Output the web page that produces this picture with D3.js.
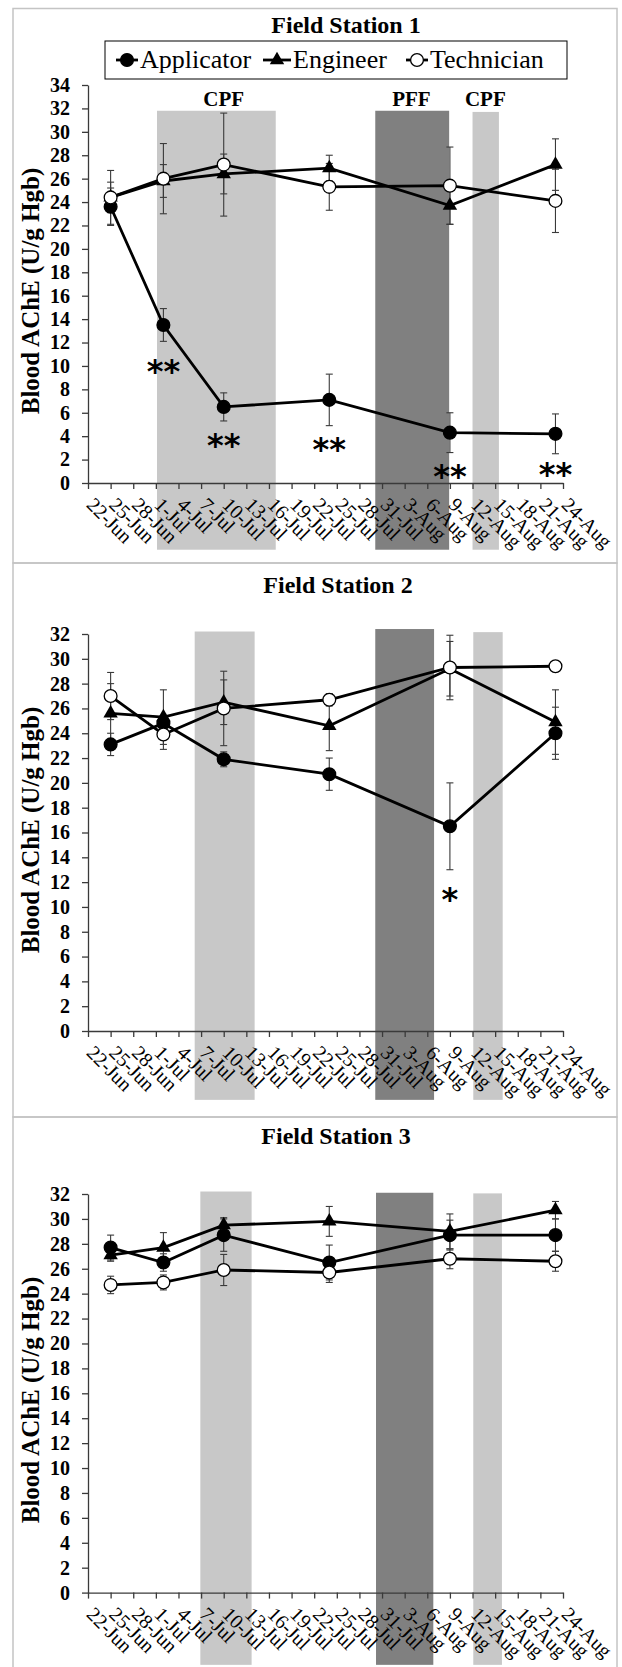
<!DOCTYPE html>
<html>
<head>
<meta charset="utf-8">
<script src="https://cdn.jsdelivr.net/npm/d3@7"></script>
<style>
body { margin: 0; background: #fff; }
svg { display: block; font-family: "Liberation Serif", "Times New Roman", serif; }
</style>
</head>
<body>
<svg id="mainSvg" width="622" height="1667"></svg>
<script>
var year = "2014";

// x axis tick labels (every 3 days)
var tickLabels = ["22-Jun", "25-Jun", "28-Jun", "1-Jul", "4-Jul", "7-Jul", "10-Jul", "13-Jul",
	"16-Jul", "19-Jul", "22-Jul", "25-Jul", "28-Jul", "31-Jul", "3-Aug", "6-Aug", "9-Aug",
	"12-Aug", "15-Aug", "18-Aug", "21-Aug", "24-Aug"];

// sampling days
var sampleDates = ["25-Jun", "2-Jul", "10-Jul", "24-Jul", "9-Aug", "23-Aug"];
var seriesNames = ["Applicator", "Engineer", "Technician"];

// Field Station 1
var s1Applicator    = [23.6, 13.5, 6.5, 7.1, 4.3, 4.2];
var s1ApplicatorErr = [1.6, 1.4, 1.2, 2.2, 1.7, 1.7];
var s1Engineer      = [24.4, 25.8, 26.4, 26.9, 23.7, 27.2];
var s1EngineerErr   = [1.3, 1.4, 1.7, 1.1, 1.6, 2.2];
var s1Technician    = [24.4, 26.0, 27.2, 25.3, 25.4, 24.1];
var s1TechnicianErr = [2.3, 3.0, 4.4, 2.0, 3.3, 2.7];
var s1BandStart = ["2014-07-01T03:36Z", "2014-07-30T02:24Z", "2014-08-12T00:00Z"];
var s1BandEnd   = ["2014-07-16T21:36Z", "2014-08-08T21:36Z", "2014-08-15T12:00Z"];
var s1BandTop   = [31.8, 31.8, 31.7];
var s1BandKind  = ["light", "dark", "light"];
var s1PeriodLabels  = ["CPF", "PFF", "CPF"];
var s1PeriodLabelAt = ["2014-07-10T00:00Z", "2014-08-03T21:36Z", "2014-08-13T16:48Z"];
var s1StarDates  = ["2-Jul", "10-Jul", "24-Jul", "9-Aug", "23-Aug"];
var s1StarLevels = [10.1, 3.8, 3.4, 1.1, 1.25];

// Field Station 2
var s2Applicator    = [23.1, 24.8, 21.9, 20.7, 16.5, 24.0];
var s2ApplicatorErr = [0.9, 0.6, 0.6, 1.3, 3.5, 2.1];
var s2Engineer      = [25.6, 25.3, 26.5, 24.6, 29.2, 24.9];
var s2EngineerErr   = [2.4, 2.2, 1.8, 2.0, 2.2, 2.6];
var s2Technician    = [27.0, 23.9, 26.0, 26.7, 29.3, 29.4];
var s2TechnicianErr = [1.9, 1.2, 3.0, 0.5, 2.6, 0.3];
var s2BandStart = ["2014-07-06T03:36Z", "2014-07-30T02:24Z", "2014-08-12T02:24Z"];
var s2BandEnd   = ["2014-07-14T02:24Z", "2014-08-06T21:36Z", "2014-08-16T00:00Z"];
var s2BandTop   = [32.2, 32.4, 32.15];
var s2BandKind  = ["light", "dark", "light"];
var s2StarDates  = ["9-Aug"];
var s2StarLevels = [11.1];

// Field Station 3
var s3Applicator    = [27.7, 26.5, 28.7, 26.5, 28.7, 28.7];
var s3ApplicatorErr = [1.0, 0.7, 1.3, 1.4, 1.2, 1.3];
var s3Engineer      = [27.1, 27.7, 29.5, 29.8, 29.0, 30.7];
var s3EngineerErr   = [0.5, 1.2, 0.6, 1.2, 1.4, 0.7];
var s3Technician    = [24.7, 24.9, 25.9, 25.7, 26.8, 26.6];
var s3TechnicianErr = [0.7, 0.6, 1.25, 0.8, 0.8, 0.8];
var s3BandStart = ["2014-07-06T21:36Z", "2014-07-30T04:48Z", "2014-08-12T02:24Z"];
var s3BandEnd   = ["2014-07-13T16:48Z", "2014-08-06T19:12Z", "2014-08-15T21:36Z"];
var s3BandTop   = [32.2, 32.1, 32.05];
var s3BandKind  = ["light", "dark", "light"];

var parseDay = d3.utcParse("%d-%b-%Y");
function day(s) { return parseDay(s + "-" + year); }

var svg = d3.select("#mainSvg");

var x = d3.scaleUtc()
	.domain([day(tickLabels[0]), day(tickLabels[tickLabels.length - 1])])
	.range([88, 563]);

var panels = [
	{ title: "Field Station 1", titleX: 346, titleY: 33, top: 8.5, bottom: 563,
	  yMax: 34, yTop: 85, yBottom: 483, labelY: 291, bandBottom: -5.7,
	  values: [s1Applicator, s1Engineer, s1Technician],
	  errs: [s1ApplicatorErr, s1EngineerErr, s1TechnicianErr],
	  bandStart: s1BandStart, bandEnd: s1BandEnd, bandTop: s1BandTop, bandKind: s1BandKind,
	  periodLabels: s1PeriodLabels, periodLabelAt: s1PeriodLabelAt, periodLabelLevel: 32.2,
	  starDates: s1StarDates, starLevels: s1StarLevels, starText: "**", legend: true },
	{ title: "Field Station 2", titleX: 338, titleY: 593, top: 563, bottom: 1117,
	  yMax: 32, yTop: 634, yBottom: 1031, labelY: 830, bandBottom: -5.55,
	  values: [s2Applicator, s2Engineer, s2Technician],
	  errs: [s2ApplicatorErr, s2EngineerErr, s2TechnicianErr],
	  bandStart: s2BandStart, bandEnd: s2BandEnd, bandTop: s2BandTop, bandKind: s2BandKind,
	  periodLabels: [], periodLabelAt: [],
	  starDates: s2StarDates, starLevels: s2StarLevels, starText: "*", legend: false },
	{ title: "Field Station 3", titleX: 336, titleY: 1144, top: 1117, bottom: 1680,
	  yMax: 32, yTop: 1194, yBottom: 1592.6, labelY: 1400, bandBottom: -5.8,
	  values: [s3Applicator, s3Engineer, s3Technician],
	  errs: [s3ApplicatorErr, s3EngineerErr, s3TechnicianErr],
	  bandStart: s3BandStart, bandEnd: s3BandEnd, bandTop: s3BandTop, bandKind: s3BandKind,
	  periodLabels: [], periodLabelAt: [],
	  starDates: [], starLevels: [], starText: "", legend: false }
];

var ink = "#3a3a3a";

// marker for series k: filled circle, filled triangle, open circle
function addMarker(sel, k) {
	if (k == 1) {
		sel.append("path")
			.attr("d", d3.symbol().type(d3.symbolTriangle).size(90))
			.attr("fill", "#000");
	} else {
		sel.append("circle")
			.attr("r", 6.4)
			.attr("fill", k == 0 ? "#000" : "#fff")
			.attr("stroke", "#000")
			.attr("stroke-width", 1.3);
	}
}

panels.forEach(function(p) {
	var y = d3.scaleLinear().domain([0, p.yMax]).range([p.yBottom, p.yTop]);
	var g = svg.append("g").attr("class", "panel");

	// panel border
	g.append("rect")
		.attr("x", 13).attr("y", p.top)
		.attr("width", 604).attr("height", p.bottom - p.top)
		.attr("fill", "none").attr("stroke", "#c4c4c4").attr("stroke-width", 1.5);

	// shaded spray periods
	g.selectAll(".band")
		.data(d3.range(p.bandStart.length))
		.enter().append("rect")
		.attr("class", "band")
		.attr("x", function(i) { return x(d3.isoParse(p.bandStart[i])); })
		.attr("width", function(i) { return x(d3.isoParse(p.bandEnd[i])) - x(d3.isoParse(p.bandStart[i])); })
		.attr("y", function(i) { return y(p.bandTop[i]); })
		.attr("height", function(i) { return y(p.bandBottom) - y(p.bandTop[i]); })
		.attr("fill", function(i) { return p.bandKind[i] == "dark" ? "#808080" : "#c8c8c8"; });

	// period labels
	g.selectAll(".plabel")
		.data(d3.range(p.periodLabels.length))
		.enter().append("text")
		.attr("class", "plabel")
		.attr("x", function(i) { return x(d3.isoParse(p.periodLabelAt[i])); })
		.attr("y", y(p.periodLabelLevel))
		.attr("text-anchor", "middle")
		.style("font-size", "21px").style("font-weight", "bold")
		.text(function(i) { return p.periodLabels[i]; });

	// y axis
	var yAxisG = g.append("g")
		.attr("transform", "translate(88,0)")
		.call(d3.axisLeft(y).tickValues(d3.range(0, p.yMax + 1, 2))
			.tickSize(6).tickSizeOuter(0).tickPadding(12));
	yAxisG.selectAll("path, line").attr("stroke", ink).attr("stroke-width", 1.3);
	yAxisG.selectAll("text")
		.attr("fill", "#000")
		.style("font-family", "'Liberation Serif', serif")
		.style("font-size", "20px").style("font-weight", "bold");

	// x axis
	var xAxisG = g.append("g")
		.attr("transform", "translate(0," + p.yBottom + ")")
		.call(d3.axisBottom(x).tickValues(tickLabels.map(day))
			.tickFormat(function(d, i) { return tickLabels[i]; })
			.tickSize(6).tickSizeOuter(0));
	xAxisG.selectAll("path, line").attr("stroke", ink).attr("stroke-width", 1.3);
	xAxisG.selectAll("text")
		.attr("fill", "#000")
		.attr("x", 0).attr("y", 0).attr("dy", 0)
		.attr("text-anchor", "start")
		.attr("transform", "translate(-3,23) rotate(45)")
		.style("font-family", "'Liberation Serif', serif")
		.style("font-size", "20px");

	// y label
	g.append("text")
		.attr("transform", "translate(38.5," + p.labelY + ") rotate(-90)")
		.attr("text-anchor", "middle")
		.style("font-size", "25px").style("font-weight", "bold")
		.text("Blood AChE (U/g Hgb)");

	// title
	g.append("text")
		.attr("x", p.titleX).attr("y", p.titleY)
		.attr("text-anchor", "middle")
		.style("font-size", "24px").style("font-weight", "bold")
		.text(p.title);

	var rows = seriesNames.map(function(name, k) {
		return sampleDates.map(function(d, i) {
			return { date: day(d), v: p.values[k][i], e: p.errs[k][i] };
		});
	});

	// error bars
	rows.forEach(function(row) {
		var eb = g.append("g").selectAll("g").data(row).enter().append("g");
		eb.append("line")
			.attr("x1", function(d) { return x(d.date); }).attr("x2", function(d) { return x(d.date); })
			.attr("y1", function(d) { return y(d.v - d.e); }).attr("y2", function(d) { return y(d.v + d.e); });
		eb.append("line")
			.attr("x1", function(d) { return x(d.date) - 3.5; }).attr("x2", function(d) { return x(d.date) + 3.5; })
			.attr("y1", function(d) { return y(d.v + d.e); }).attr("y2", function(d) { return y(d.v + d.e); });
		eb.append("line")
			.attr("x1", function(d) { return x(d.date) - 3.5; }).attr("x2", function(d) { return x(d.date) + 3.5; })
			.attr("y1", function(d) { return y(d.v - d.e); }).attr("y2", function(d) { return y(d.v - d.e); });
		eb.selectAll("line").attr("stroke", ink).attr("stroke-width", 1.1);
	});

	// lines
	var line = d3.line()
		.x(function(d) { return x(d.date); })
		.y(function(d) { return y(d.v); });
	rows.forEach(function(row) {
		g.append("path").datum(row)
			.attr("d", line)
			.attr("fill", "none").attr("stroke", "#000").attr("stroke-width", 2.8);
	});

	// markers
	rows.forEach(function(row, k) {
		var m = g.append("g").selectAll("g").data(row).enter().append("g")
			.attr("transform", function(d) { return "translate(" + x(d.date) + "," + y(d.v) + ")"; });
		addMarker(m, k);
	});

	// significance asterisks
	g.selectAll(".star")
		.data(d3.range(p.starDates.length))
		.enter().append("text")
		.attr("class", "star")
		.attr("x", function(i) { return x(day(p.starDates[i])); })
		.attr("y", function(i) { return y(p.starLevels[i]) + 17; })
		.attr("text-anchor", "middle")
		.style("font-family", "'DejaVu Sans', sans-serif")
		.style("font-size", "32px").style("font-weight", "bold")
		.text(p.starText);

	// legend
	if (p.legend) {
		var lg = g.append("g");
		lg.append("rect")
			.attr("x", 105).attr("y", 41).attr("width", 462).attr("height", 38)
			.attr("fill", "#fff").attr("stroke", "#000").attr("stroke-width", 1);
		var keyX = [116, 263, 406], keyW = [22, 28, 22];
		seriesNames.forEach(function(name, k) {
			lg.append("line")
				.attr("x1", keyX[k]).attr("x2", keyX[k] + keyW[k])
				.attr("y1", 60).attr("y2", 60)
				.attr("stroke", "#000").attr("stroke-width", 2.8);
			var mk = lg.append("g").attr("transform", "translate(" + (keyX[k] + keyW[k] / 2) + ",60)");
			addMarker(mk, k);
			lg.append("text")
				.attr("x", keyX[k] + keyW[k] + 2).attr("y", 68)
				.style("font-size", "26px")
				.text(name);
		});
	}
});
</script>
</body>
</html>
